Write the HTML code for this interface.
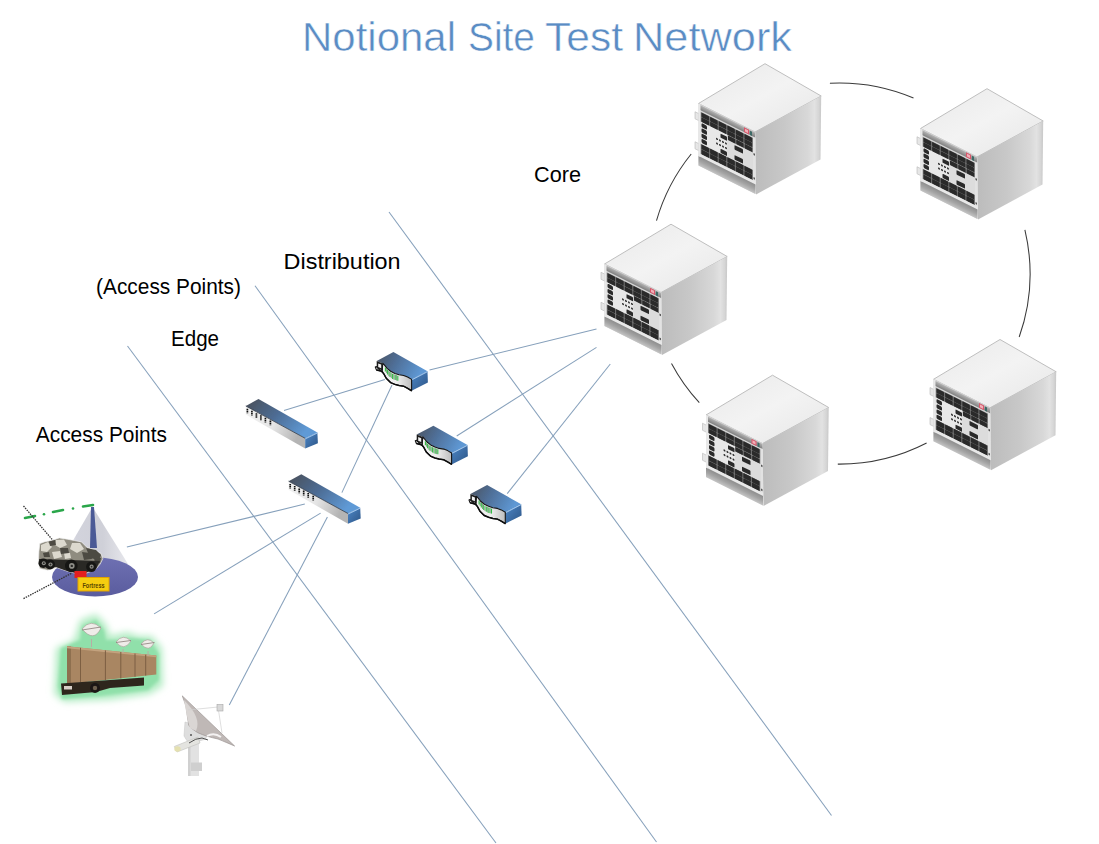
<!DOCTYPE html>
<html><head><meta charset="utf-8"><title>Notional Site Test Network</title>
<style>
html,body{margin:0;padding:0;background:#fff;}
body{width:1099px;height:844px;overflow:hidden;position:relative;font-family:"Liberation Sans",sans-serif;}
svg{position:absolute;left:0;top:0;}
</style></head><body>
<svg width="1099" height="844" viewBox="0 0 1099 844" font-family="Liberation Sans, sans-serif">
<defs>
  <filter id="soft4" x="-10%" y="-10%" width="120%" height="120%"><feGaussianBlur stdDeviation="0.4"/></filter>
  <linearGradient id="rtop" x1="0" y1="0" x2="1" y2="1">
    <stop offset="0" stop-color="#e9e9e9"/><stop offset="0.5" stop-color="#f3f3f3"/><stop offset="1" stop-color="#e6e6e6"/>
  </linearGradient>
  <linearGradient id="rright" x1="0" y1="0" x2="1" y2="0">
    <stop offset="0" stop-color="#bcbcbc"/><stop offset="0.45" stop-color="#c8c8c8"/><stop offset="0.8" stop-color="#d8d8d8"/><stop offset="0.9" stop-color="#e2e2e2"/><stop offset="0.96" stop-color="#d6d6d6"/><stop offset="1" stop-color="#c8c8c8"/>
  </linearGradient>
  <linearGradient id="rband" x1="0" y1="0" x2="0" y2="1">
    <stop offset="0" stop-color="#b4b4b4"/><stop offset="1" stop-color="#7e7e7e"/>
  </linearGradient>
  <linearGradient id="rplinth" x1="0" y1="0" x2="0" y2="1">
    <stop offset="0" stop-color="#8e8e8e"/><stop offset="0.5" stop-color="#a4a4a4"/><stop offset="1" stop-color="#c4c4c4"/>
  </linearGradient>
  <linearGradient id="bluetop" x1="0" y1="0" x2="1" y2="0.4">
    <stop offset="0" stop-color="#47566b"/><stop offset="0.55" stop-color="#4f78a8"/><stop offset="1" stop-color="#5f9ad6"/>
  </linearGradient>
  <linearGradient id="blueend" x1="0" y1="0" x2="1" y2="1">
    <stop offset="0" stop-color="#4b7fbf"/><stop offset="1" stop-color="#2e5583"/>
  </linearGradient>
  <linearGradient id="whitefront" x1="0" y1="0" x2="0" y2="1">
    <stop offset="0" stop-color="#ffffff"/><stop offset="1" stop-color="#b9b9b9"/>
  </linearGradient>

  <g id="router" filter="url(#soft4)">
    <!-- top face -->
    <polygon points="0,0 66.5,-39.8 122.7,-7.5 56.5,28.5" fill="url(#rtop)" stroke="#b8b8b8" stroke-width="0.9" stroke-linejoin="round"/>
    <!-- right face -->
    <polygon points="56.5,28.5 122.7,-7.5 122,56 57.5,91" fill="url(#rright)"/>
    <!-- front face -->
    <g transform="matrix(1,0.5,0,1,0,0)">
      <rect x="-3.5" y="10" width="4" height="7" fill="#e6e6e6" stroke="#bdbdbd" stroke-width="0.6"/>
      <rect x="-3.5" y="40" width="4" height="7" fill="#e6e6e6" stroke="#bdbdbd" stroke-width="0.6"/>
      <rect x="0" y="0" width="57" height="62" fill="#d6d6d6"/>
      <rect x="0.5" y="0.8" width="56" height="5" fill="url(#rband)"/>
      <rect x="2" y="7.2" width="52.5" height="9.8" fill="#747474"/>
      <rect x="29" y="17" width="25.5" height="5" fill="#747474"/>
      <rect x="2" y="39" width="52.5" height="10.5" fill="#747474"/>
      <rect x="2" y="17" width="27" height="22" fill="#e8e8e8"/>
      <rect x="29" y="22" width="25.5" height="17" fill="#dcdcdc"/>
      <g fill="#2b2b2b">
        <rect x="3.0" y="7.5" width="7.6" height="4.6" rx="0.8"/><rect x="11.6" y="7.5" width="7.6" height="4.6" rx="0.8"/><rect x="20.2" y="7.5" width="7.6" height="4.6" rx="0.8"/><rect x="28.8" y="7.5" width="7.6" height="4.6" rx="0.8"/><rect x="37.3" y="7.5" width="7.6" height="4.6" rx="0.8"/><rect x="45.9" y="7.5" width="7.6" height="4.6" rx="0.8"/><rect x="3.0" y="12.4" width="7.6" height="4.4" rx="0.8"/><rect x="11.6" y="12.4" width="7.6" height="4.4" rx="0.8"/><rect x="20.2" y="12.4" width="7.6" height="4.4" rx="0.8"/><rect x="28.8" y="12.4" width="7.6" height="4.4" rx="0.8"/><rect x="37.3" y="12.4" width="7.6" height="4.4" rx="0.8"/><rect x="45.9" y="12.4" width="7.6" height="4.4" rx="0.8"/><rect x="29.5" y="17.3" width="7.3" height="4.4" rx="0.8"/><rect x="37.8" y="17.3" width="7.3" height="4.4" rx="0.8"/><rect x="46.2" y="17.3" width="7.3" height="4.4" rx="0.8"/><rect x="3.0" y="39.3" width="7.6" height="4.9" rx="0.8"/><rect x="11.6" y="39.3" width="7.6" height="4.9" rx="0.8"/><rect x="20.2" y="39.3" width="7.6" height="4.9" rx="0.8"/><rect x="28.8" y="39.3" width="7.6" height="4.9" rx="0.8"/><rect x="37.3" y="39.3" width="7.6" height="4.9" rx="0.8"/><rect x="45.9" y="39.3" width="7.6" height="4.9" rx="0.8"/><rect x="3.0" y="44.5" width="7.6" height="4.8" rx="0.8"/><rect x="11.6" y="44.5" width="7.6" height="4.8" rx="0.8"/><rect x="20.2" y="44.5" width="7.6" height="4.8" rx="0.8"/><rect x="28.8" y="44.5" width="7.6" height="4.8" rx="0.8"/><rect x="37.3" y="44.5" width="7.6" height="4.8" rx="0.8"/><rect x="45.9" y="44.5" width="7.6" height="4.8" rx="0.8"/>
        <rect x="3" y="18" width="5.5" height="4.2" rx="1.2"/><rect x="3" y="23.2" width="5.5" height="4.2" rx="1.2"/>
        <rect x="3" y="28.4" width="5.5" height="4.2" rx="1.2"/><rect x="3" y="33.6" width="5.5" height="4.2" rx="1.2"/>
        <rect x="22" y="19" width="6.5" height="4.2" rx="0.8"/><rect x="22" y="34.2" width="6.5" height="4.2" rx="0.8"/>
        <rect x="36" y="23.5" width="8.5" height="4.5" rx="0.8"/><rect x="36" y="33.5" width="8.5" height="4.5" rx="0.8"/>
        <circle cx="18.5" cy="26.2" r="1"/><circle cx="21.5" cy="26.2" r="1"/><circle cx="24.5" cy="26.2" r="1"/><circle cx="27.5" cy="26.2" r="1"/>
        <circle cx="18.5" cy="30.8" r="1"/><circle cx="21.5" cy="30.8" r="1"/><circle cx="24.5" cy="30.8" r="1"/><circle cx="27.5" cy="30.8" r="1"/>
      </g>
      <rect x="54.5" y="6" width="2.5" height="44" fill="#e2e2e2"/>
      <rect x="55" y="22" width="1.5" height="2" fill="#555"/><rect x="55" y="46" width="1.5" height="2" fill="#555"/>
      <rect x="0" y="49.5" width="57" height="3" fill="#e8e8e8"/>
      <rect x="0" y="52.5" width="57" height="9.5" fill="url(#rplinth)"/>
      <rect x="0" y="0" width="2" height="52.5" fill="#e8e8e8"/>
      <rect x="45.5" y="1" width="5" height="4.8" fill="#d9576a"/>
      <rect x="46.5" y="2" width="3" height="2.8" fill="#f0b0b8"/>
      <rect x="51.5" y="1.5" width="2" height="4.3" fill="#3e6a66"/>
    </g>
  </g>

  <linearGradient id="dtop" x1="0" y1="0" x2="1" y2="0.3">
    <stop offset="0" stop-color="#4c535f"/><stop offset="0.45" stop-color="#4f6f98"/><stop offset="1" stop-color="#5e98d4"/>
  </linearGradient>
  <linearGradient id="dstrip" x1="0" y1="0" x2="1" y2="0">
    <stop offset="0" stop-color="#f4f4f4"/><stop offset="0.6" stop-color="#eeeeee"/><stop offset="1" stop-color="#bdbdbd"/>
  </linearGradient>
  <linearGradient id="etop" x1="0" y1="0" x2="1" y2="0.5">
    <stop offset="0" stop-color="#4a4f58"/><stop offset="0.5" stop-color="#4d6c94"/><stop offset="1" stop-color="#5f9ad6"/>
  </linearGradient>
  <linearGradient id="efront" x1="0" y1="0" x2="1" y2="0.3">
    <stop offset="0" stop-color="#f2f2f2"/><stop offset="0.55" stop-color="#e6e6e6"/><stop offset="1" stop-color="#b4b4b4"/>
  </linearGradient>
  <linearGradient id="eend" x1="0" y1="0" x2="1" y2="1">
    <stop offset="0" stop-color="#4d86c6"/><stop offset="1" stop-color="#2d5687"/>
  </linearGradient>

  <g id="dswitch" filter="url(#soft4)">
    <polygon points="0,0 34.1,19.2 18.2,27.3 14.2,24.9 10.3,23.4 5.7,22.7 1.5,21.3 -2.8,19.2 -6.4,16.3 -8.9,13.1 -10.6,11.3 -16.7,8.9" fill="url(#dtop)"/>
    <polygon points="18.2,27.3 34.1,19.2 34.5,30.5 18.2,38.7" fill="url(#eend)"/>
    <polyline points="18.4,27.8 34.1,19.6" stroke="#a9cdf2" stroke-width="0.9" fill="none"/>
    <path d="M18.2,27.3 L14.2,24.9 L10.3,23.4 L5.7,22.7 L1.5,21.3 L-2.8,19.2 L-6.4,16.3 L-8.9,13.1 L-10.6,11.3 L-11.3,19.2 L-17,17.8 L-18.1,15 L-17,14.5 L-9.6,21.7 L-7.1,26.3 L-2.8,30.5 L1.5,32.3 L5.7,33.4 L10.3,34.1 L14.2,36.2 L18.2,38.7 Z" fill="url(#dstrip)" stroke="#121212" stroke-width="1.1" stroke-linejoin="round"/>
    <path d="M-17,17.8 L-11.3,19.2 L-9.6,21.7 L-7.1,26.3 L-2.8,30.5 L1.5,32.3 L5.7,33.4 L10.3,34.1 L14.2,36.2 L18.2,38.7" stroke="#0c0c0c" stroke-width="1.5" fill="none"/>
    <polygon points="-16.7,8.9 -10.6,11.3 -10.6,18.6 -16.7,16" fill="#1a1a1a"/>
    <polygon points="-15.2,11.3 -12.2,12.5 -12.2,16.2 -15.2,15" fill="#f2f2f2"/>
    <g stroke="#33bb44" stroke-width="1.1">
      <line x1="-8" y1="15.5" x2="-8" y2="19.5"/><line x1="-5.8" y1="18" x2="-5.8" y2="22.5"/>
      <line x1="-3.4" y1="20" x2="-3.4" y2="25"/><line x1="-0.8" y1="21.6" x2="-0.8" y2="26.8"/>
      <line x1="1.8" y1="22.6" x2="1.8" y2="28"/><line x1="4.4" y1="23.6" x2="4.4" y2="28.6"/>
    </g>
    <g stroke="#145a1e" stroke-width="0.5">
      <line x1="-6.9" y1="17" x2="-6.9" y2="21"/><line x1="-4.6" y1="19" x2="-4.6" y2="24"/>
      <line x1="-2.1" y1="21" x2="-2.1" y2="26"/><line x1="0.5" y1="22" x2="0.5" y2="27.5"/><line x1="3.1" y1="23" x2="3.1" y2="28.4"/>
    </g>
  </g>

  <g id="eswitch" filter="url(#soft4)">
    <polygon points="0,0 58.9,33.6 46.7,39.3 -12.7,7" fill="url(#etop)"/>
    <polygon points="-12.7,7 46.7,39.3 46.7,49.6 -12.7,15.6" fill="url(#efront)"/>
    <line x1="-12.7" y1="7" x2="46.7" y2="39.3" stroke="#2a3442" stroke-width="0.8"/>
    <polygon points="46.7,39.3 58.9,33.6 59.4,44.2 46.7,49.6" fill="url(#eend)"/>
    <polyline points="46.9,39.8 58.9,34" stroke="#a9cdf2" stroke-width="0.9" fill="none"/>
    <g stroke="#101010" stroke-width="1.7" stroke-dasharray="1.5 0.5">
      <line x1="-11.1" y1="9.7" x2="-11.1" y2="14.2"/><line x1="-6.6" y1="11.7" x2="-6.6" y2="16.5"/>
      <line x1="-2.1" y1="14.2" x2="-2.1" y2="19"/><line x1="2.4" y1="16.2" x2="2.4" y2="21.2"/>
      <line x1="6.9" y1="18.7" x2="6.9" y2="23.6"/><line x1="11.9" y1="21.5" x2="11.9" y2="26.3"/>
    </g>
  </g>
</defs>

<!-- title -->
<g font-size="41" fill="#5a8cc4" stroke="#ffffff" stroke-width="0.5">
<text x="302" y="50.7" textLength="154" lengthAdjust="spacingAndGlyphs">Notional</text>
<text x="468" y="50.7" textLength="67" lengthAdjust="spacingAndGlyphs">Site</text>
<text x="545" y="50.7" textLength="78" lengthAdjust="spacingAndGlyphs">Test</text>
<text x="633" y="50.7" textLength="159" lengthAdjust="spacingAndGlyphs">Network</text>
</g>

<!-- labels -->
<g font-size="22" fill="#000">
  <text x="534.1" y="182.3" textLength="46.9" lengthAdjust="spacingAndGlyphs">Core</text>
  <text x="283.6" y="269" textLength="117" lengthAdjust="spacingAndGlyphs">Distribution</text>
  <text x="96.1" y="293.6" textLength="144.8" lengthAdjust="spacingAndGlyphs">(Access Points)</text>
  <text x="171" y="345.5" textLength="48" lengthAdjust="spacingAndGlyphs">Edge</text>
  <text x="35.8" y="441.5" textLength="131.2" lengthAdjust="spacingAndGlyphs">Access Points</text>
</g>

<!-- blue lines -->
<g stroke="#86a0bb" stroke-width="1.05" fill="none">
  <line x1="127.5" y1="346" x2="496" y2="843"/>
  <line x1="255" y1="285.8" x2="656.5" y2="842"/>
  <line x1="389" y1="212" x2="831.5" y2="815.5"/>
  <line x1="596.5" y1="329" x2="429.5" y2="370"/>
  <line x1="596.5" y1="347.4" x2="456.7" y2="436"/>
  <line x1="610.3" y1="364" x2="507.2" y2="493.6"/>
  <line x1="384.9" y1="379.4" x2="284" y2="410.4"/>
  <line x1="392" y1="385" x2="341.9" y2="492.6"/>
  <line x1="304.8" y1="504.1" x2="126.9" y2="547.1"/>
  <line x1="320.6" y1="513.1" x2="154.1" y2="613.9"/>
  <line x1="327.4" y1="516.9" x2="229.3" y2="704.9"/>
</g>

<!-- ring arcs -->
<g stroke="#3a3a3a" stroke-width="1.05" fill="none">
  <path d="M829.9,83.3 A190.5,190.5 0 0 1 913.5,98.1 M1024.9,229.9 A190.5,190.5 0 0 1 1019.2,337.0 M926.6,443.0 A190.5,190.5 0 0 1 837.8,464.1 M671.5,363.4 A190.5,190.5 0 0 0 699.3,402.6 M656.5,220.6 A190.5,190.5 0 0 1 691.2,154.0 "/>
</g>

<!-- access point 1: vehicle with coverage cone -->
<g>
  <defs>
    <linearGradient id="cone" x1="0" y1="0" x2="1" y2="0">
      <stop offset="0" stop-color="#ffffff" stop-opacity="0"/>
      <stop offset="0.3" stop-color="#d2d3dc"/>
      <stop offset="0.6" stop-color="#cfd0d8"/>
      <stop offset="1" stop-color="#e6e6ec" stop-opacity="0.7"/>
    </linearGradient>
    <linearGradient id="ellg" x1="0" y1="0" x2="0" y2="1">
      <stop offset="0" stop-color="#6e70b2"/><stop offset="1" stop-color="#5a5c9e"/>
    </linearGradient>
  </defs>
  <polygon points="92.5,507 50,580 138,580" fill="url(#cone)"/>
  <ellipse cx="95" cy="577" rx="43" ry="19.5" fill="url(#ellg)"/>
  <polygon points="91,507 94,507 97,548 90,548" fill="#4b5a96"/>
  <!-- green dash-dot line -->
  <g stroke="#2aa64a" stroke-width="2.6" stroke-linecap="round">
    <line x1="25" y1="518" x2="35" y2="516"/>
    <line x1="53" y1="512" x2="63" y2="510"/>
    <line x1="83" y1="506.5" x2="93" y2="505"/>
  </g>
  <g fill="#2aa64a"><circle cx="44" cy="514.2" r="1.3"/><circle cx="73" cy="508.5" r="1.3"/></g>
  <!-- dotted black lines -->
  <line x1="23.5" y1="506" x2="56" y2="544" stroke="#333" stroke-width="1.3" stroke-dasharray="1.5 1"/>
  <line x1="23.5" y1="598.6" x2="72" y2="573" stroke="#333" stroke-width="1.3" stroke-dasharray="1.5 1"/>
  <!-- vehicle -->
  <path d="M38.9,551.6 L39.8,543.6 L44.2,541.9 L53.1,540.1 L59.3,537.9 L67.3,539.2 L74.4,540.5 L81.5,541.9 L86.8,547.2 L93.9,549.9 L101,553.4 L102.8,558.7 L100.2,564 L95.7,569.4 L86.8,573 L76.2,573.4 L67.3,571.2 L56.6,567.6 L47.8,570.3 L39.8,568.5 L38.4,562.3 Z" fill="#8f8c80" stroke="#f0f0f0" stroke-width="0.7"/>
  <g fill="#dcd9ce">
    <path d="M41,545 L48,542 L52,547 L47,552 L41,551 Z"/>
    <path d="M56,540 L64,539.5 L67,545 L60,548 L55,545 Z"/>
    <path d="M72,543 L80,543 L84,549 L77,553 L70,549 Z"/>
    <path d="M52,552 L60,551 L62,557 L54,559 Z"/>

    <path d="M64,553 L70,553 L71,558 L65,559 Z"/>
  </g>
  <g fill="#4c4a42">
    <path d="M49,541.5 L55,540 L56,545 L50,546 Z"/>
    <path d="M82,552 L90,553 L92,559 L84,560 Z"/>
    <path d="M60,548 L68,548 L69,553 L61,554 Z"/>
    <path d="M43,553 L49,552 L50,557 L44,557 Z"/>
    <path d="M94,558 L101,558 L100,563 L95,563 Z"/>
    <path d="M86,548 L96,550 L101,555 L99,560 L90,558 Z"/>
  </g>
  <path d="M39,559 L100,561 L96,569 L86,572.5 L76,573 L67,571 L56,567 L40,567 Z" fill="#2a2925"/>
  <g fill="#161614">
    <circle cx="43.3" cy="563.2" r="4.8"/><circle cx="50" cy="564.5" r="5"/><circle cx="71.3" cy="565.9" r="6.3"/><circle cx="91.3" cy="566.7" r="5.2"/>
  </g>
  <g fill="#8e8e88"><circle cx="43.8" cy="563.2" r="2"/><circle cx="50.5" cy="564.5" r="2.1"/><circle cx="71.8" cy="565.9" r="2.8"/><circle cx="91.6" cy="566.7" r="2.1"/></g>
  <g fill="#2a2a28"><circle cx="43.8" cy="563.2" r="0.9"/><circle cx="50.5" cy="564.5" r="0.9"/><circle cx="71.8" cy="565.9" r="1.2"/><circle cx="91.6" cy="566.7" r="0.9"/></g>
  <rect x="74.5" y="571" width="12" height="7" fill="#e41e1e"/>
  <rect x="78" y="577.5" width="31" height="13.5" fill="#f6cd10" stroke="#e2a200" stroke-width="1"/>
  <text x="82.5" y="587.5" font-size="7.5" font-weight="bold" fill="#5a4400" textLength="22" lengthAdjust="spacingAndGlyphs">Fortress</text>
</g>

<!-- access point 2: truck with dishes -->
<g>
  <defs>
    <filter id="glow" x="-40%" y="-40%" width="180%" height="180%"><feGaussianBlur stdDeviation="3.5"/></filter>
    <filter id="glow2" x="-40%" y="-40%" width="180%" height="180%"><feGaussianBlur stdDeviation="1.8"/></filter>
    <filter id="soft" x="-20%" y="-20%" width="140%" height="140%"><feGaussianBlur stdDeviation="0.6"/></filter>
  </defs>
  <g filter="url(#glow)" fill="#b4ecc4">
    <path d="M56,648 L74,640 L80,620 L96,614 L106,624 L110,636 L118,634 L128,632 L138,636 L152,636 L162,648 L163,686 L150,694 L110,700 L64,702 L54,694 Z"/>
  </g>
  <g filter="url(#glow2)" fill="#90e0aa">
    <path d="M61,648 L80,640 L82,626 L96,620 L104,630 L106,640 L118,640 L130,638 L150,640 L159,654 L159,680 L148,690 L100,696 L62,699 L58,686 Z"/>
  </g>
  <g filter="url(#soft)">
  <path d="M67,646.2 L156.3,655.5 L156.3,674.5 L67,684 Z" fill="#a98662"/>
  <path d="M67,646.2 L71,646.6 L71,683.6 L67,684 Z" fill="#8e6f50"/>
  <path d="M67,646.2 L156.3,655.5 L156.3,657.3 L67,648.2 Z" fill="#c3a27e"/>
  <g stroke="#7d5f43" stroke-width="1">
    <line x1="80.5" y1="647.8" x2="80.5" y2="682.5"/><line x1="105.4" y1="650.4" x2="105.4" y2="680"/>
    <line x1="120.8" y1="652" x2="120.8" y2="678.4"/><line x1="135" y1="653.5" x2="135" y2="676.8"/><line x1="145.7" y1="654.7" x2="145.7" y2="675.6"/>
  </g>
  <path d="M61,683.5 L110,680 L144,677.5 L144,685.5 L110,688 L96,692 L62,695 Z" fill="#2e261f"/>
  <rect x="64" y="686" width="8" height="3.5" fill="#d8d0c8"/>
  <circle cx="95" cy="688" r="5" fill="#1c1814"/><circle cx="95" cy="688" r="2.2" fill="#6e6050"/>
  <g fill="#efece9" stroke="#a49a93" stroke-width="0.6">
    <path d="M82,629 Q91,618 101,628 Q94,643 82,629 Z"/>
    <path d="M116,642 Q123,633 131,641 Q124,652 116,642 Z"/>
    <path d="M141,644 Q147.5,636 154,643 Q149,653 141,644 Z"/>
  </g>
  <g stroke="#8a7e78" stroke-width="0.8"><line x1="82" y1="630" x2="101" y2="627"/><line x1="116" y1="642.5" x2="131" y2="640.5"/><line x1="141" y1="644.5" x2="154.5" y2="642.5"/></g>
  <g stroke="#b8aca4" stroke-width="1"><line x1="91.5" y1="639" x2="91.5" y2="647"/><line x1="123" y1="649" x2="123" y2="653"/><line x1="148" y1="651" x2="148" y2="656"/></g>
  </g>
</g>

<!-- access point 3: satellite dish -->
<g filter="url(#soft)">
  <path d="M185,722 L200,726 L207,731 L206,739 L189,744 L184,736 Z" fill="#dedede" stroke="#c4c4c4" stroke-width="0.5"/>
  <rect x="188" y="742" width="11" height="34" fill="#e2e2e2"/>
  <rect x="188" y="742" width="2.5" height="34" fill="#d0d0d0"/>
  <rect x="191" y="762.5" width="11" height="8.5" fill="#cfcfcf"/>
  <path d="M174.3,746.5 L198,737 L200,743 L177,752 Z" fill="#e4e4e0" stroke="#c0c0bc" stroke-width="0.6"/>
  <ellipse cx="177.5" cy="749" rx="3.2" ry="2.8" fill="#e4e0b0"/>
  <path d="M182.3,695.9 L234.6,746 C230,744 224,741.5 218,739 C211,737.5 204,735.5 197.7,732.7 C192,729 189,726 188.7,725 C187.5,719 187,712 186,706 Z" fill="#bfb8b6" stroke="#9c9594" stroke-width="0.7"/>
  <path d="M184,700 C186,712 188,722 190,728 L196,731 C200,722 196,712 184,700 Z" fill="#dad6d4"/>
  <path d="M207,736 Q214,732 221,737" stroke="#f4f2f2" stroke-width="2" fill="none"/>
  <path d="M188,710 L218,707 L222,733" stroke="#d0d0d0" stroke-width="0.7" fill="none"/>
  <rect x="217" y="704.5" width="6" height="6.5" fill="#d8d8d8" stroke="#a8a8a8" stroke-width="0.6"/>
  <path d="M189,743 Q196,738 202,738 L208,740" stroke="#505050" stroke-width="1" fill="none"/>
  <circle cx="191" cy="735" r="1" fill="#555"/>
</g>

<!-- routers -->
<use href="#router" transform="translate(698.5,103.5)"/>
<use href="#router" transform="translate(920.5,128.5)"/>
<use href="#router" transform="translate(604.5,264)"/>
<use href="#router" transform="translate(933.5,379.3)"/>
<use href="#router" transform="translate(706,415)"/>

<!-- distribution switches -->
<use href="#dswitch" transform="translate(393.4,352.1)"/>
<use href="#dswitch" transform="translate(433.4,425.7)"/>
<use href="#dswitch" transform="translate(487.1,485)"/>

<!-- edge switches -->
<use href="#eswitch" transform="translate(258.5,399)"/>
<use href="#eswitch" transform="translate(301.3,474.2)"/>

</svg>
</body></html>
